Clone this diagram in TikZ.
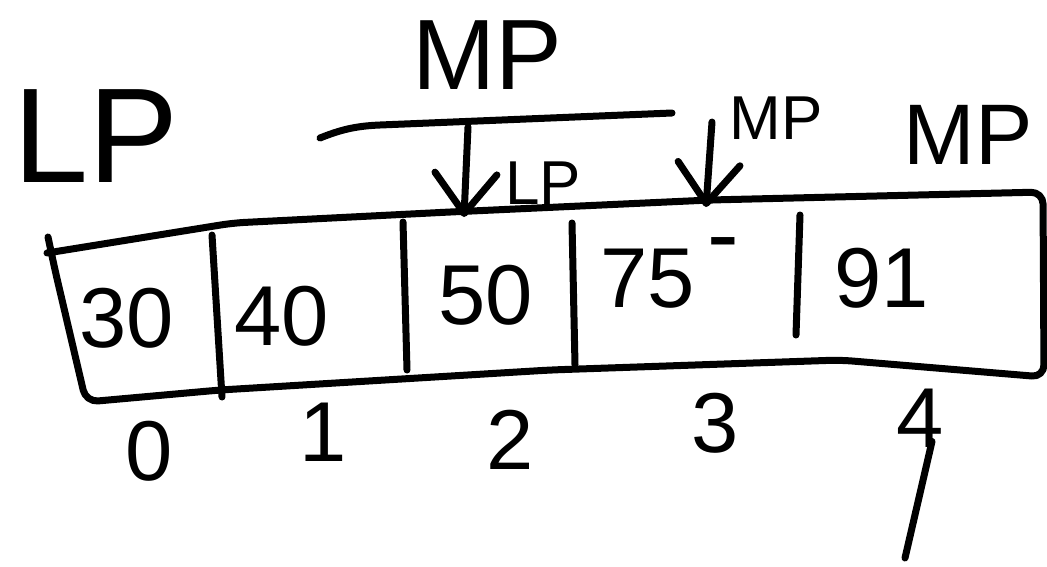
\documentclass[tikz,border=0pt]{standalone}
\usepackage{fontspec}
\setmainfont{Liberation Sans}
\usetikzlibrary{arrows.meta}
\begin{document}
\begin{tikzpicture}[x=1pt,y=-1pt,
  ink/.style={line width=7pt,line cap=round,line join=round},
  ptr/.style={ink,-{Straight Barb[length=40pt,width=62pt,round]}},
  lbl/.style={inner sep=0pt,anchor=center},
  big/.style={lbl,font=\fontsize{135}{135}\selectfont},
  mid/.style={lbl,font=\fontsize{100}{100}\selectfont},
  val/.style={lbl,font=\fontsize{85}{85}\selectfont},
  sml/.style={lbl,font=\fontsize{62}{62}\selectfont}]
\useasboundingbox (0,0) rectangle (1047,566);
\fill[white] (0,0) rectangle (1047,566);
% array box
\draw[ink,rounded corners=12pt] (47,253) -- (233,223) -- (450,212) -- (710,200)
  -- (1043,192) -- (1044,377) -- (840,360) -- (550,370) -- (220,390)
  -- (86,402) -- (55,270) -- (48,237);
% cell dividers
\draw[ink] (212,235) -- (222,397);
\draw[ink] (403,222) -- (407,370);
\draw[ink] (572,223) -- (575,365);
\draw[ink] (800,215) -- (796,335);
% cell values
\node[val] (v0) at (127,318) {30};
\node[val] (v1) at (282,316) {40};
\node[val] (v2) at (486,295) {50};
\node[val] (v3) at (648,279) {75};
\node[lbl,anchor=base,font=\fontsize{95}{95}\selectfont] (dash) at (723,266) {-};
\node[val] (v4) at (882,278) {91};
% indices
\node[val] (i0) at (149,451) {0};
\node[val] (i1) at (323,432) {1};
\node[val] (i2) at (510,440) {2};
\node[val] (i3) at (715,423) {3};
\node[val] (i4) at (920,418) {4};
\coordinate (s4) at (905,558);
\draw[ink] ([xshift=12pt,yshift=6pt]i4.south) -- (s4);
% pointer labels
\node[big] (lp) at (96,136) {LP};
\node[mid] (mptop) at (487,55) {MP};
\node[sml] (lpsmall) at (543,183) {LP};
\node[sml] (mpsmall) at (776,118) {MP};
\node[lbl,font=\fontsize{86}{86}\selectfont] (mpright) at (968,135) {MP};
% bar and arrows
\coordinate (barL) at (320,138);
\coordinate (barR) at (672,113);
\coordinate (b1) at (468,127);
\coordinate (t1) at (464,217);
\coordinate (b2) at (712,122);
\coordinate (t2) at (706,207);
\draw[ink] (barL) .. controls (340,130) and (355,126) .. (380,125) -- (barR);
\draw[ptr] (b1) -- (t1);
\draw[ptr] (b2) -- (t2);
\end{tikzpicture}
\end{document}
